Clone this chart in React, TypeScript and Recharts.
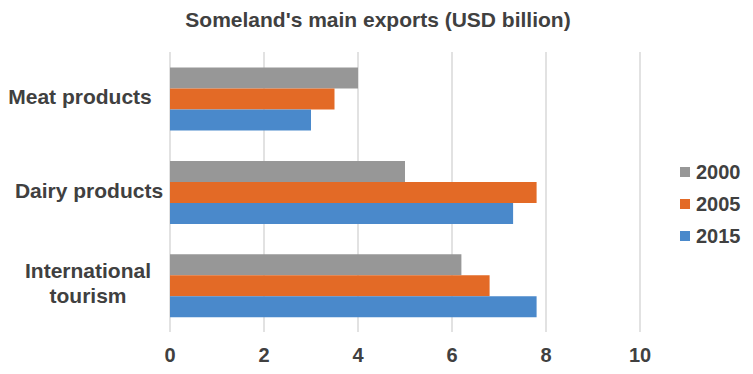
import React from "react";
import { BarChart, Bar, XAxis, YAxis, CartesianGrid } from "recharts";

const categories = ["Meat products", "Dairy products", "International tourism"];
const seriesNames = ["2000", "2005", "2015"];
const values2000 = [4, 5, 6.2];
const values2005 = [3.5, 7.8, 6.8];
const values2015 = [3, 7.3, 7.8];
const xTicks = [0, 2, 4, 6, 8, 10];

const colors = ["#979797", "#E36A26", "#4A89CB"];

const data = categories.map((c, i) => ({
  name: c,
  "2000": values2000[i],
  "2005": values2005[i],
  "2015": values2015[i],
}));

const FONT = "'Liberation Sans', Arial, sans-serif";
const TEXT = "#404040";

const XTick = (props: any) => {
  const { x, payload } = props;
  return (
    <text x={x} y={355} textAnchor="middle" dominantBaseline="central" fontFamily={FONT} fontWeight="bold" fontSize={20} fill={TEXT}>
      {payload.value}
    </text>
  );
};

const centers = [80, 89, 88];

const YTick = (props: any) => {
  const { y, payload, index } = props;
  const label: string = payload.value;
  const cx = centers[index] ?? 88;
  const words = label.split(" ");
  const lines = label === "International tourism" ? words : [label];
  const lh = 25;
  const start = -((lines.length - 1) * lh) / 2 - 2;
  return (
    <text x={cx} y={y} textAnchor="middle" fontFamily={FONT} fontWeight="bold" fontSize={21} fill={TEXT}>
      {lines.map((l, i) => (
        <tspan key={i} x={cx} y={y + start + i * lh} dominantBaseline="central">
          {l}
        </tspan>
      ))}
    </text>
  );
};

export default function App() {
  return (
    <div style={{ position: "absolute", left: 0, top: 0, width: 753, height: 374, background: "#fff" }}>
      <div
        style={{
          position: "absolute",
          left: 0,
          top: 8,
          width: 756,
          textAlign: "center",
          fontFamily: FONT,
          fontWeight: "bold",
          fontSize: 21,
          lineHeight: "24px",
          color: TEXT,
        }}
      >
        Someland's main exports (USD billion)
      </div>
      <BarChart
        width={753}
        height={374}
        data={data}
        layout="vertical"
        margin={{ top: 52, right: 113, bottom: 0, left: 0 }}
        barCategoryGap="16.7%"
        barGap={0}
      >
        <CartesianGrid horizontal={false} stroke="#d9d9d9" strokeWidth={1.5} />
        <XAxis
          type="number"
          domain={[0, 10]}
          ticks={xTicks}
          axisLine={false}
          tickLine={false}
          height={42}
          tick={<XTick />}
          interval={0}
        />
        <YAxis
          type="category"
          dataKey="name"
          width={170}
          axisLine={false}
          tickLine={false}
          tick={<YTick />}
          interval={0}
        />
        {seriesNames.map((s, i) => (
          <Bar key={s} dataKey={s} fill={colors[i]} isAnimationActive={false} />
        ))}
      </BarChart>
      <div style={{ position: "absolute", left: 680, top: 156 }}>
        {seriesNames.map((s, i) => (
          <div key={s} style={{ display: "flex", alignItems: "center", height: 32 }}>
            <div style={{ width: 10, height: 10, background: colors[i], marginRight: 6 }} />
            <span style={{ fontFamily: FONT, fontWeight: "bold", fontSize: 20, color: TEXT, lineHeight: "24px" }}>{s}</span>
          </div>
        ))}
      </div>
    </div>
  );
}
